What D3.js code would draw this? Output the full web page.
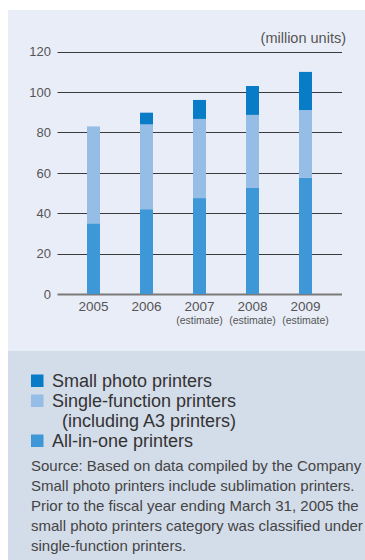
<!DOCTYPE html>
<html>
<head>
<meta charset="utf-8">
<script src="https://cdn.jsdelivr.net/npm/d3@7"></script>
<style>
  body { margin: 0; background: #fff; }
  svg { display: block; font-family: "Liberation Sans", Arial, sans-serif; }
</style>
</head>
<body>
<svg id="chart" width="365" height="560"></svg>
<script>
// data (million units)
const years = ["2005", "2006", "2007", "2008", "2009"];
const yearNotes = ["", "", "(estimate)", "(estimate)", "(estimate)"];
const allInOne = [35, 42, 47.5, 52.5, 57.5];
const singleFunction = [48, 42, 39.2, 36.2, 33.6];
const smallPhoto = [0, 5.8, 9.4, 14.3, 18.9];
const yTicks = [0, 20, 40, 60, 80, 100, 120];

const seriesKeys = ["allInOne", "singleFunction", "smallPhoto"];
const colors = {allInOne: "#3e97d6", singleFunction: "#96bde6", smallPhoto: "#087cc6"};

const legendItems = [
  {key: "smallPhoto", lines: ["Small photo printers"]},
  {key: "singleFunction", lines: ["Single-function printers", "  (including A3 printers)"]},
  {key: "allInOne", lines: ["All-in-one printers"]}
];
const notes = [
  "Source: Based on data compiled by the Company",
  "Small photo printers include sublimation printers.",
  "Prior to the fiscal year ending March 31, 2005 the",
  "small photo printers category was classified under",
  "single-function printers."
];

const rows = years.map((y, i) => ({
  year: y,
  allInOne: allInOne[i],
  singleFunction: singleFunction[i],
  smallPhoto: smallPhoto[i]
}));

const svg = d3.select("#chart");

// background panels
svg.append("rect").attr("x", 8).attr("y", 10).attr("width", 357).attr("height", 341)
    .attr("fill", "#e9edf8");
svg.append("rect").attr("x", 8).attr("y", 351).attr("width", 357).attr("height", 209)
    .attr("fill", "#d3dce9");

const gridLeft = 57.5, gridRight = 342;
const x = d3.scaleBand()
    .domain(years)
    .range([67, 332])
    .paddingInner(40 / 53)
    .paddingOuter(20 / 53);
const y = d3.scaleLinear().domain([0, 120]).range([294, 51.7]);

// gridlines + tick labels
const grid = svg.append("g");
grid.selectAll("line")
    .data(yTicks)
    .enter()
    .append("line")
    .attr("x1", gridLeft)
    .attr("x2", gridRight)
    .attr("y1", d => Math.round(y(d)) + 0.5)
    .attr("y2", d => Math.round(y(d)) + 0.5)
    .attr("stroke", d => d === 0 ? "#7a7a7a" : "#3a3a3a")
    .attr("stroke-width", d => d === 0 ? 2 : 1.2);

grid.selectAll("text")
    .data(yTicks)
    .enter()
    .append("text")
    .attr("x", 51)
    .attr("y", d => y(d) + 4.7)
    .attr("text-anchor", "end")
    .attr("font-size", 13)
    .attr("fill", "#555")
    .text(d => d);

svg.append("text")
    .attr("x", 346)
    .attr("y", 42.5)
    .attr("text-anchor", "end")
    .attr("font-size", 14.5)
    .attr("fill", "#555")
    .text("(million units)");

// stacked bars
const stack = d3.stack().keys(seriesKeys)(rows);
svg.append("g")
    .selectAll("g")
    .data(stack)
    .enter()
    .append("g")
    .attr("fill", d => colors[d.key])
    .selectAll("rect")
    .data(d => d)
    .enter()
    .append("rect")
    .attr("x", d => x(d.data.year))
    .attr("width", x.bandwidth())
    .attr("y", d => y(d[1]))
    .attr("height", d => y(d[0]) - y(d[1]));

// year labels
const xl = svg.append("g");
xl.selectAll("text.year")
    .data(years)
    .enter()
    .append("text")
    .attr("class", "year")
    .attr("x", d => x(d) + x.bandwidth() / 2)
    .attr("y", 311)
    .attr("text-anchor", "middle")
    .attr("font-size", 13.5)
    .attr("fill", "#555")
    .text(d => d);
xl.selectAll("text.note")
    .data(years)
    .enter()
    .append("text")
    .attr("class", "note")
    .attr("x", d => x(d) + x.bandwidth() / 2)
    .attr("y", 324)
    .attr("text-anchor", "middle")
    .attr("font-size", 10.5)
    .attr("fill", "#555")
    .text((d, i) => yearNotes[i]);

// legend
let ly = 387;
const legend = svg.append("g");
legendItems.forEach(item => {
  legend.append("rect")
      .attr("x", 31)
      .attr("y", ly - 12.5)
      .attr("width", 12.5)
      .attr("height", 12.5)
      .attr("fill", colors[item.key]);
  item.lines.forEach(line => {
    legend.append("text")
        .attr("x", 52)
        .attr("y", ly)
        .attr("font-size", 18)
        .attr("fill", "#333")
        .attr("xml:space", "preserve")
        .style("white-space", "pre")
        .text(line);
    ly += 20;
  });
});

// source notes
svg.append("g")
    .selectAll("text")
    .data(notes)
    .enter()
    .append("text")
    .attr("x", 31)
    .attr("y", (d, i) => 471 + i * 20)
    .attr("font-size", 15)
    .attr("fill", "#444")
    .text(d => d);
</script>
</body>
</html>
